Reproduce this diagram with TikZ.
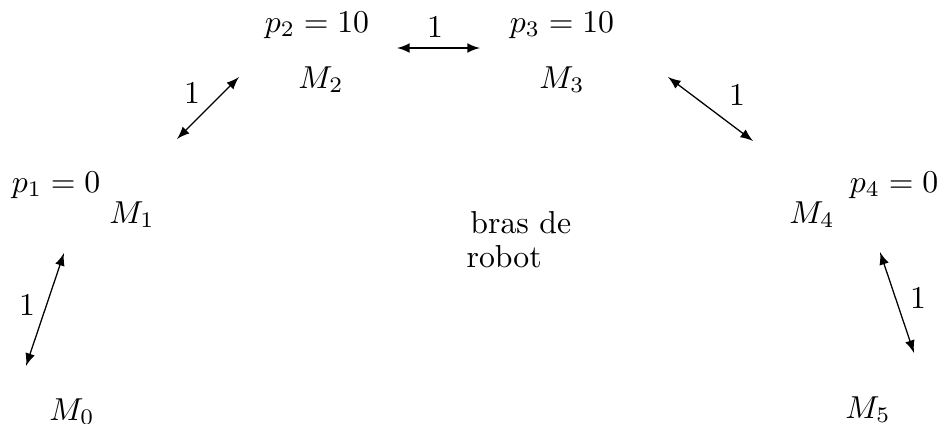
\documentclass[tikz,border=0pt]{standalone}
\begin{document}
\begin{tikzpicture}[x=0.315pt,y=-0.315pt,
  lbl/.style={anchor=base,inner sep=0pt},
  num/.style={anchor=center,inner sep=0pt},
  dbl/.style={latex-latex,line width=0.4pt}]
\useasboundingbox (0,0) rectangle (939,423);
\clip (0,0) rectangle (939,423);
% machine labels
\node[lbl] (M0) at (72,420) {$M_0$};
\node[lbl] (M1) at (132,223) {$M_1$};
\node[lbl] (M2) at (321,88) {$M_2$};
\node[lbl] (M3) at (562,88) {$M_3$};
\node[lbl] (M4) at (812,223) {$M_4$};
\node[lbl] (M5) at (868,418) {$M_5$};
% p values
\node[lbl] (P1) at (56,192) {$p_1=0$};
\node[lbl] (P2) at (317,32) {$p_2=10$};
\node[lbl] (P3) at (562,32) {$p_3=10$};
\node[lbl] (P4) at (894,192) {$p_4=0$};
% central text
\node[anchor=base west,inner sep=0pt,align=left] (R) at (466,267) {\hspace*{1.2pt}bras de\\[-1.6pt]robot};
% arrow end points
\coordinate (a0) at (26,366);  \coordinate (b0) at (64,253);
\coordinate (a1) at (177,139); \coordinate (b1) at (239,77);
\coordinate (a2) at (397,48);  \coordinate (b2) at (480,48);
\coordinate (a3) at (668,77);  \coordinate (b3) at (753,141);
\coordinate (a4) at (880,252); \coordinate (b4) at (914,353);
\draw[dbl] (a0) -- (b0);
\draw[dbl] (a1) -- (b1);
\draw[dbl] (a2) -- (b2);
\draw[dbl] (a3) -- (b3);
\draw[dbl] (a4) -- (b4);
% distance labels
\node[num] (L0) at (27,305) {1};
\node[num] (L1) at (192,93) {1};
\node[num] (L2) at (435,27) {1};
\node[num] (L3) at (737,95) {1};
\node[num] (L4) at (918,298) {1};
\end{tikzpicture}
\end{document}
